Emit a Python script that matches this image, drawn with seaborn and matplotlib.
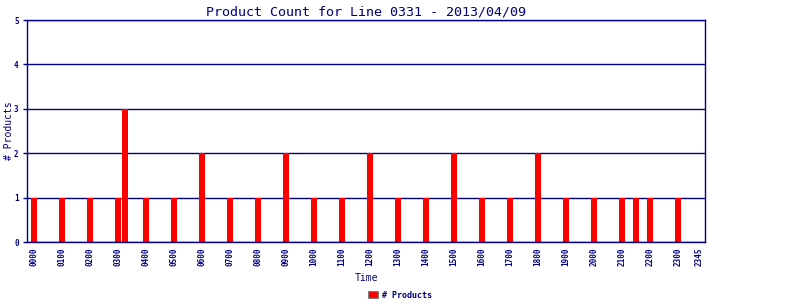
import matplotlib
matplotlib.use("Agg")
import matplotlib.pyplot as plt
import seaborn as sns
import pandas as pd
from matplotlib.patches import Patch

sns.set_style("white")
plt.rcParams['font.family'] = ['DejaVu Sans Mono', 'DejaVu Sans']

NAVY = "#000080"

# 15-minute time slots shown on the x axis
slots = [f"{h:02d}{m:02d}" for h in range(24) for m in (0, 15, 30, 45)]
tick_labels = [f"{h:02d}00" for h in range(24)] + ["2345"]

# bars (time slot, product count)
bar_times = ["0000", "0100", "0200", "0300", "0315", "0400", "0500", "0600",
             "0700", "0800", "0900", "1000", "1100", "1200", "1300", "1400",
             "1500", "1600", "1700", "1800", "1900", "2000", "2100", "2130",
             "2200", "2300"]
bar_counts = [1, 1, 1, 1, 3, 1, 1, 2,
              1, 1, 2, 1, 1, 2, 1, 1,
              2, 1, 1, 2, 1, 1, 1, 1,
              1, 1]

df = pd.DataFrame({"Time": bar_times, "Count": bar_counts})

fig = plt.figure(figsize=(8, 3), dpi=100)
ax = fig.add_axes([27/800, 58/300, 678/800, 222/300])

sns.barplot(data=df, x="Time", y="Count", order=slots, color="#FF0000",
            saturation=1, width=0.86, ax=ax, edgecolor="none", linewidth=0)

ax.set_ylim(0, 5)
ax.set_xlim(-1, 95.86)
ax.set_yticks(range(0, 6))
ax.set_yticklabels([str(i) for i in range(6)], fontsize=5.5, color=NAVY,
                   fontweight="bold")
tick_pos = [slots.index(t) for t in tick_labels]
ax.set_xticks(tick_pos)
ax.set_xticklabels(tick_labels, rotation=90, fontsize=5.5, color=NAVY,
                   fontweight="bold")
ax.tick_params(axis="y", length=3, width=1, color=NAVY, pad=3, left=True)
ax.tick_params(axis="x", length=0, pad=4)

ax.grid(axis="y", color=NAVY, linewidth=1)
ax.set_axisbelow(True)
for s in ax.spines.values():
    s.set_visible(True)
    s.set_color(NAVY)
    s.set_linewidth(1)

ax.set_xlabel("Time", fontsize=7, color=NAVY, labelpad=5)
ax.set_ylabel("# Products", fontsize=7, color=NAVY)
ax.yaxis.set_label_coords(-13/678, 0.5)
ax.set_title("Product Count for Line 0331 - 2013/04/09", fontsize=9.6,
             color=NAVY, pad=3)

handles = [Patch(facecolor="#FF0000", edgecolor="#808080", linewidth=0.8,
                 label="# Products")]
fig.legend(handles=handles, loc="center", bbox_to_anchor=(0.5, 5/300),
           frameon=False, handlelength=1.2, handleheight=0.9,
           handletextpad=0.4, labelcolor=NAVY,
           prop={"weight": "bold", "size": 6})

fig.savefig("out.png", dpi=100, facecolor="white")
